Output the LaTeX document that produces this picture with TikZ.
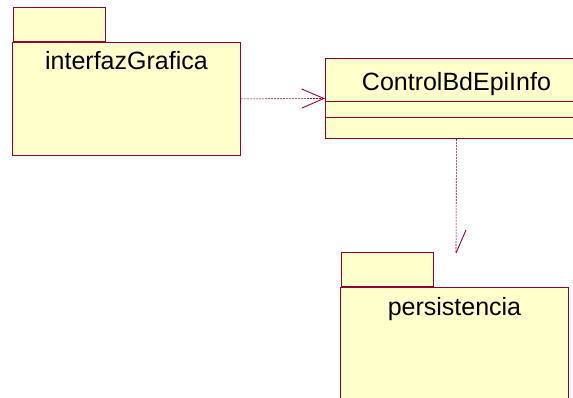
\documentclass[tikz,border=0pt]{standalone}
\usepackage{fontspec}
\setmainfont{Liberation Sans}
\usetikzlibrary{arrows.meta}
\definecolor{umlrojo}{rgb}{0.6,0,0.2}
\definecolor{umlfondo}{rgb}{1,1,0.8}
\tikzset{
  pkg/.style={draw=umlrojo,fill=umlfondo,line width=0.9pt,inner sep=0pt,minimum width=228pt},
  pkgtab/.style={draw=umlrojo,fill=umlfondo,line width=0.9pt,inner sep=0pt,minimum width=92pt,minimum height=34pt,anchor=south west},
  clase/.style={draw=umlrojo,fill=umlfondo,line width=0.9pt,inner sep=0pt,minimum width=262pt,minimum height=80pt,anchor=north west},
  nombre/.style={font=\fontsize{25}{29}\selectfont,inner sep=0pt,anchor=base},
  dep/.style={draw=umlrojo,line width=0.6pt,dash pattern=on 2pt off 1pt}
}
\begin{document}
\begin{tikzpicture}[x=1pt,y=-1pt]
\useasboundingbox (0,0) rectangle (573,398);
\clip (0,0) rectangle (573,398);
% paquete interfazGrafica
\node[pkgtab] (guitab) at (13,42) {};
\node[pkg,minimum height=113pt,anchor=north west] (gui) at (12,42) {};
\node[nombre] (guiname) at ([yshift=-28pt]gui.north) {interfazGrafica};
% clase ControlBdEpiInfo
\node[clase] (ctrl) at (325,58) {};
\node[nombre] (ctrlname) at ([yshift=-33pt]ctrl.north) {ControlBdEpiInfo};
\draw[umlrojo,line width=0.9pt] ([yshift=-43pt]ctrl.north west) -- ([yshift=-43pt]ctrl.north east);
\draw[umlrojo,line width=0.9pt] ([yshift=-59pt]ctrl.north west) -- ([yshift=-59pt]ctrl.north east);
% paquete persistencia
\node[pkgtab] (perstab) at (341,287) {};
\node[pkg,minimum height=130pt,anchor=north west] (pers) at (340,287) {};
\node[nombre] (persname) at ([yshift=-28pt]pers.north) {persistencia};
% dependencias
\coordinate (persdep) at (456,253);
\draw[dep,-{Straight Barb[length=22pt,width=19pt,line width=0.9pt]}] (gui.east) -- (ctrl.west);
\draw[dep] (ctrl.south) -- (persdep);
\draw[umlrojo,line width=0.9pt] (persdep) -- ++(10,-23);
\end{tikzpicture}
\end{document}
